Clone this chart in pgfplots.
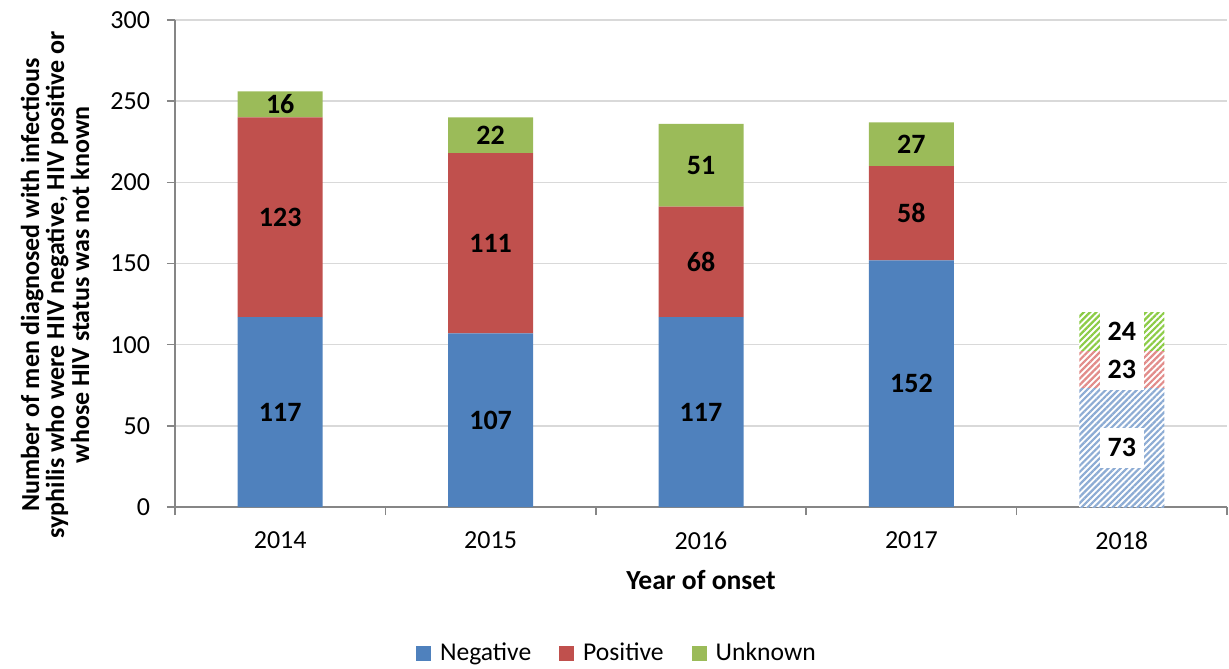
\documentclass[border=0pt]{standalone}
\usepackage{pgfplots}
\pgfplotsset{compat=1.18}
\usepackage{fontspec}
\setmainfont{Carlito}
\usetikzlibrary{patterns.meta}

\definecolor{negc}{RGB}{79,129,189}
\definecolor{posc}{RGB}{192,80,77}
\definecolor{unkc}{RGB}{155,187,89}
\definecolor{negh}{RGB}{141,172,212}
\definecolor{posh}{RGB}{226,140,138}
\definecolor{unkh}{RGB}{140,204,70}
\definecolor{axisc}{RGB}{134,134,134}
\definecolor{gridc}{RGB}{217,217,217}

% x = year index (0 = 2014), y = number of men
\pgfplotstableread{
x y
0 117
1 107
2 117
3 152
4 0
}\negative
\pgfplotstableread{
x y
0 123
1 111
2 68
3 58
4 0
}\positive
\pgfplotstableread{
x y
0 16
1 22
2 51
3 27
4 0
}\unknown
% 2018 (provisional, hatched)
\pgfplotstableread{
x y
0 0
1 0
2 0
3 0
4 73
}\negativeh
\pgfplotstableread{
x y
0 0
1 0
2 0
3 0
4 23
}\positiveh
\pgfplotstableread{
x y
0 0
1 0
2 0
3 0
4 24
}\unknownh

\newcommand\lbl{\pgfmathfloatifflags{\pgfplotspointmeta}{0}{}{\pgfmathprintnumber{\pgfplotspointmeta}}}
\newcommand\boxlbl{\pgfmathfloatifflags{\pgfplotspointmeta}{0}{}{\setlength\fboxsep{4pt}\colorbox{white}{\rule[-1.5pt]{0pt}{12pt}\makebox[14pt]{\pgfmathprintnumber{\pgfplotspointmeta}}}}}

\begin{document}
\begin{tikzpicture}
\path[use as bounding box] (-87.5pt,-80.5pt) rectangle (527pt,253.5pt);
\begin{axis}[
    scale only axis,
    width=526pt, height=243.5pt,
    ybar stacked, bar width=42.5pt,
    xmin=-0.5, xmax=4.5, ymin=0, ymax=300,
    ytick={0,50,...,300},
    xtick={0,...,4},
    xticklabels={2014,2015,2016,2017,2018},
    minor xtick={-0.5,0.5,...,4.5},
    axis x line*=bottom, axis y line*=left,
    axis line style={draw=axisc, line width=0.8pt},
    ymajorgrids, grid style={draw=gridc, line width=0.8pt},
    tick align=outside,
    major tick length=4pt, minor tick length=4pt,
    tick style={draw=axisc, line width=0.8pt},
    major x tick style={draw=none},
    /pgf/number format/assume math mode=true,
    tick label style={font=\fontsize{13}{15}\selectfont},
    xticklabel style={yshift=-5pt},
    yticklabel style={xshift=-5pt},
    xlabel={Year of onset},
    xlabel style={font=\bfseries\fontsize{13.8}{15}\selectfont, at={(0.5,0)}, anchor=center, yshift=-36.5pt},
    ylabel={Number of men diagnosed with infectious\\syphilis who were HIV negative, HIV positive or\\whose HIV status was not known},
    ylabel style={font=\bfseries\fontsize{13}{12.5}\selectfont, align=center, at={(0,0.456)}, anchor=center, yshift=60pt},
    point meta=explicit,
    nodes near coords={\lbl},
    every node near coord/.append style={anchor=center, black,
        font=\bfseries\fontsize{14}{14}\selectfont},
    legend style={at={(0.421,-0.30)}, anchor=center, draw=none,
        legend columns=-1, font=\fontsize{12.8}{15}\selectfont,
        /tikz/every odd column/.append style={column sep=2.5pt},
        /tikz/every even column/.append style={column sep=12pt}},
    legend image code/.code={\fill[#1] (0pt,-3.75pt) rectangle (7.5pt,3.75pt);},
]
\addplot[draw=none, fill=negc] table[x=x, y=y, meta=y] {\negative};
\addplot[draw=none, fill=posc] table[x=x, y=y, meta=y] {\positive};
\addplot[draw=none, fill=unkc] table[x=x, y=y, meta=y] {\unknown};
\addplot[forget plot, draw=none, preaction={fill=white},
    pattern={Lines[angle=45, distance=2.2pt, line width=1.1pt]}, pattern color=negh,
    nodes near coords={\boxlbl}] table[x=x, y=y, meta=y] {\negativeh};
\addplot[forget plot, draw=none, preaction={fill=white},
    pattern={Lines[angle=45, distance=2.2pt, line width=1.1pt]}, pattern color=posh,
    nodes near coords={\boxlbl}] table[x=x, y=y, meta=y] {\positiveh};
\addplot[forget plot, draw=none, preaction={fill=white},
    pattern={Lines[angle=45, distance=2.2pt, line width=1.1pt]}, pattern color=unkh,
    nodes near coords={\boxlbl}] table[x=x, y=y, meta=y] {\unknownh};
\legend{Negative,Positive,Unknown}
\end{axis}
\end{tikzpicture}
\end{document}
